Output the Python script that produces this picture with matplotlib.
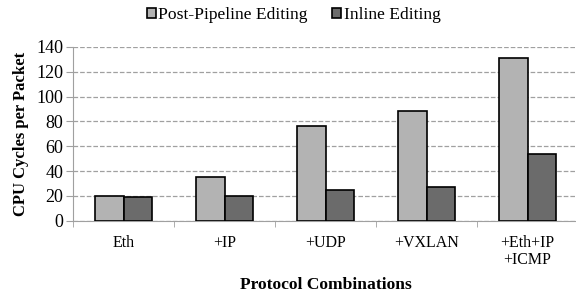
import matplotlib.pyplot as plt
import numpy as np

categories = ["Eth", "+IP", "+UDP", "+VXLAN", "+Eth+IP\n+ICMP"]
post_pipeline = [20, 35, 76, 88, 131]
inline = [19, 20, 25, 27, 54]

plt.rcParams['font.family'] = ['Liberation Serif', 'DejaVu Serif']

fig = plt.figure(figsize=(5.76, 2.97), dpi=100)
ax = fig.add_axes([0.127, 0.257, 0.873, 0.585])

x = np.arange(len(categories))
w = 0.285
ax.bar(x - w / 2, post_pipeline, w, color='#b3b3b3', edgecolor='black', linewidth=1.2,
       label='Post-Pipeline Editing', zorder=3)
ax.bar(x + w / 2, inline, w, color='#6b6b6b', edgecolor='black', linewidth=1.2,
       label='Inline Editing', zorder=3)

ax.set_ylim(0, 140)
ax.set_yticks(np.arange(0, 141, 20))
ax.set_xlim(-0.5, 4.48)
ax.set_xticks(x)
ax.set_xticklabels(categories, fontsize=11.5, linespacing=1.1)
ax.set_xticks(np.arange(-0.5, 4.4, 1), minor=True)
ax.tick_params(axis='x', which='major', length=0, pad=10)
ax.tick_params(axis='x', which='minor', length=4, color='#a0a0a0')
ax.tick_params(axis='y', labelsize=13, length=5, color='#a0a0a0', pad=2)

ax.grid(axis='y', linestyle='--', color='#a0a0a0', linewidth=0.9, zorder=0)
ax.spines['top'].set_visible(False)
ax.spines['right'].set_visible(False)
ax.spines['left'].set_color('#a0a0a0')
ax.spines['bottom'].set_color('#a0a0a0')

ax.set_ylabel('CPU Cycles per Packet', fontsize=12, fontweight='bold', labelpad=5)
fig.text(0.565, 0.04, 'Protocol Combinations', fontsize=12.6, fontweight='bold',
         ha='center', va='center')

fig.legend(loc='upper center', bbox_to_anchor=(0.51, 1.03), ncol=2, frameon=False,
           fontsize=12.6, handlelength=0.5, handleheight=0.5, handletextpad=0.15,
           columnspacing=1.4)

fig.savefig('out.png', dpi=100)
